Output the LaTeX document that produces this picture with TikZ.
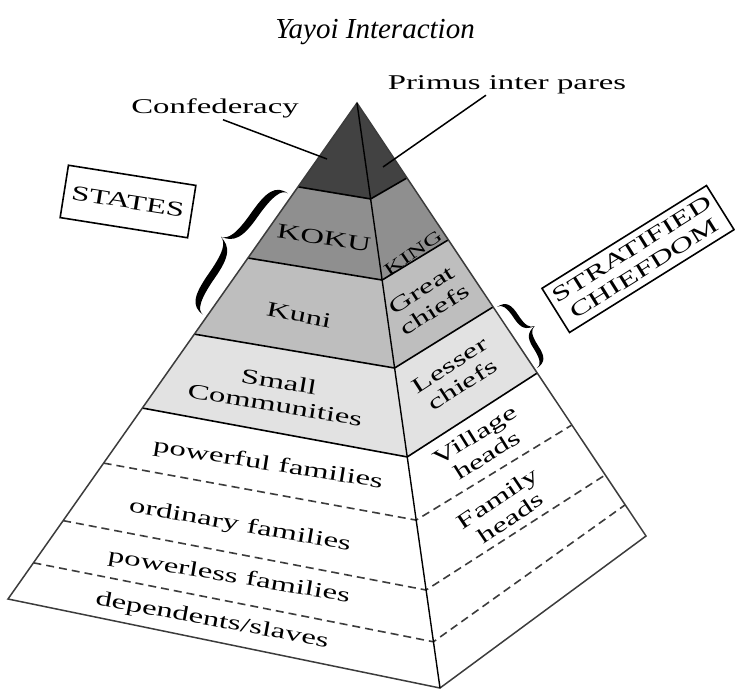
\documentclass[tikz,border=0pt]{standalone}
\usepackage{fontspec}
\setmainfont{Liberation Serif}
\newfontfamily\widefont[FakeStretch=1.56]{Liberation Serif}
\usetikzlibrary{calc}

\definecolor{toptier}{HTML}{424242}
\definecolor{kokutier}{HTML}{8F8F8F}
\definecolor{kunitier}{HTML}{BEBEBE}
\definecolor{smalltier}{HTML}{E2E2E2}
\definecolor{rim}{HTML}{3C3C3C}

% calligraphic curly bracket: #1 = centre of its chord, #2 = rotation,
% #3 = signed depth of the point, #4 = half length of the chord
\newcommand\calibrace[4]{%
  \fill[shift={#1}, rotate=#2]
    (0,{-(#4)}) .. controls ({0.5*(#3)},{-(#4)}) and ({0.63*(#3)},{-0.85*(#4)})
      .. ({0.63*(#3)},{-0.5*(#4)}) .. controls ({0.63*(#3)},{-0.15*(#4)}) and ({0.75*(#3)},{-0.03*(#4)})
      .. ({#3},0)
      .. controls ({0.75*(#3)},{0.03*(#4)}) and ({0.63*(#3)},{0.15*(#4)})
      .. ({0.63*(#3)},{0.5*(#4)}) .. controls ({0.63*(#3)},{0.85*(#4)}) and ({0.5*(#3)},{#4})
      .. (0,{#4})
      .. controls ({0.25*(#3)},{#4}) and ({0.38*(#3)},{0.85*(#4)})
      .. ({0.38*(#3)},{0.5*(#4)}) .. controls ({0.38*(#3)},{0.15*(#4)}) and ({0.55*(#3)},{0.04*(#4)})
      .. ({#3},0)
      .. controls ({0.55*(#3)},{-0.04*(#4)}) and ({0.38*(#3)},{-0.15*(#4)})
      .. ({0.38*(#3)},{-0.5*(#4)}) .. controls ({0.38*(#3)},{-0.85*(#4)}) and ({0.25*(#3)},{-(#4)})
      .. (0,{-(#4)}) -- cycle;}

\begin{document}
\begin{tikzpicture}[x=1pt, y=-1pt,
  tiertext/.style={font=\widefont\fontsize{21}{23.5}\selectfont, align=center, inner sep=0pt},
  smalltext/.style={font=\widefont\fontsize{17}{19}\selectfont, align=center, inner sep=0pt},
  tierline/.style={draw=black, line width=1.6pt},
  tierdash/.style={draw=rim, line width=1.6pt, dash pattern=on 8pt off 5pt},
  rimline/.style={draw=rim, line width=1.5pt, line join=miter},
  ridgeline/.style={draw=black, line width=1.4pt},
  framebox/.style={draw=black, line width=1.6pt, inner sep=2pt, align=center,
    font=\widefont\fontsize{21}{23}\selectfont},
  leader/.style={draw=black, line width=1.5pt}]
\useasboundingbox (0,0) rectangle (735,693);

% pyramid corners
\coordinate (apex) at (357,103);
\coordinate (bl) at (8,599);
\coordinate (bm) at (440,688);
\coordinate (br) at (646,536);

% tier boundaries on the left edge, the ridge and the right edge
\coordinate (L1) at ($(apex)!0.169!(bl)$);
\coordinate (L2) at ($(apex)!0.3125!(bl)$);
\coordinate (L3) at ($(apex)!0.466!(bl)$);
\coordinate (L4) at ($(apex)!0.615!(bl)$);
\coordinate (L5) at ($(apex)!0.726!(bl)$);
\coordinate (L6) at ($(apex)!0.842!(bl)$);
\coordinate (L7) at ($(apex)!0.927!(bl)$);
\coordinate (M1) at ($(apex)!0.164!(bm)$);
\coordinate (M2) at ($(apex)!0.3026!(bm)$);
\coordinate (M3) at ($(apex)!0.453!(bm)$);
\coordinate (M4) at ($(apex)!0.605!(bm)$);
\coordinate (M5) at ($(apex)!0.713!(bm)$);
\coordinate (M6) at ($(apex)!0.8325!(bm)$);
\coordinate (M7) at ($(apex)!0.921!(bm)$);
\coordinate (R1) at ($(apex)!0.173!(br)$);
\coordinate (R2) at ($(apex)!0.316!(br)$);
\coordinate (R3) at ($(apex)!0.471!(br)$);
\coordinate (R4) at ($(apex)!0.6236!(br)$);
\coordinate (R5) at ($(apex)!0.7436!(br)$);
\coordinate (R6) at ($(apex)!0.859!(br)$);
\coordinate (R7) at ($(apex)!0.928!(br)$);

% shaded tiers
\fill[toptier] (apex) -- (L1) -- (M1) -- (R1) -- cycle;
\fill[kokutier] (L1) -- (L2) -- (M2) -- (R2) -- (R1) -- (M1) -- cycle;
\fill[kunitier] (L2) -- (L3) -- (M3) -- (R3) -- (R2) -- (M2) -- cycle;
\fill[smalltier] (L3) -- (L4) -- (M4) -- (R4) -- (R3) -- (M3) -- cycle;

% tier boundaries
\foreach \i in {1,2,3,4}{\draw[tierline] (L\i) -- (M\i) -- (R\i);}
\foreach \i in {5,6,7}{\draw[tierdash] (L\i) -- (M\i) -- (R\i);}

% outline and ridge
\draw[rimline] (apex) -- (bl) -- (bm) -- (br) -- cycle;
\draw[ridgeline] (apex) -- (bm);

% tier names, left face
\node[tiertext, rotate=-8.5] (koku) at (324,238) {KOKU};
\node[tiertext, rotate=-11] (kuni) at (299,315) {Kuni};
\node[tiertext, rotate=-9.5] (small) at (277,393) {Small\\Communities};
\node[tiertext, rotate=-9] (powerful) at (268,465) {powerful families};
\node[tiertext, rotate=-10] (ordinary) at (240,526) {ordinary families};
\node[tiertext, rotate=-9.5] (powerless) at (229,577) {powerless families};
\node[tiertext, rotate=-10.5] (dependents) at (212,621) {dependents/slaves};

% tier names, right face
\node[smalltext, rotate=34] (king) at (413,253) {KING};
\node[tiertext, rotate=33] (great) at (428,300) {Great\\chiefs};
\node[tiertext, rotate=33] (lesser) at (456,375) {Lesser\\chiefs};
\node[tiertext, rotate=32] (village) at (481,445) {Village\\heads};
\node[tiertext, rotate=34] (family) at (504,508) {Family\\heads};

% title
\node[anchor=base, inner sep=0pt, font=\itshape\fontsize{29}{33}\selectfont] (title) at (375,38) {Yayoi Interaction};

% apex callouts
\node[tiertext, anchor=base] (conf) at (215,113) {Confederacy};
\node[tiertext, anchor=base] (primus) at (507,89) {Primus inter pares};
\coordinate (confTip) at (327,159);
\coordinate (primusTip) at (383,167);
\draw[leader] ($(conf.south)+(8,2)$) -- (confTip);
\draw[leader] ($(primus.south)+(-21,1.5)$) -- (primusTip);

% framed categories
\node[framebox, rotate=-9, minimum width=129pt, minimum height=53pt] (states) at (128,201.5) {STATES};
\node[framebox, rotate=32, minimum width=194pt, minimum height=52pt] (chiefdom) at (638,259) {STRATIFIED\\CHIEFDOM};

% brackets grouping the tiers
\calibrace{(245.5,254)}{-35}{-30}{74}
\calibrace{(517,337.5)}{33}{21}{36.5}
\end{tikzpicture}
\end{document}
